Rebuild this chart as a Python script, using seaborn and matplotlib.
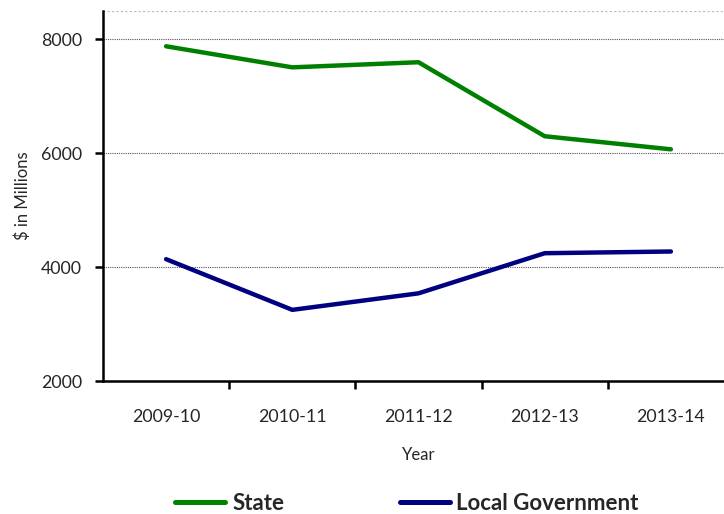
import matplotlib
matplotlib.use("Agg")
import matplotlib.pyplot as plt
import seaborn as sns
import pandas as pd
from matplotlib.lines import Line2D

years = ["2009-10", "2010-11", "2011-12", "2012-13", "2013-14"]
state = [7880, 7510, 7600, 6300, 6070]
local_gov = [4140, 3250, 3540, 4245, 4275]
series_names = ["State", "Local Government"]
colors = ["#008000", "#000080"]

df = pd.DataFrame({
    "Year": years * 2,
    "x": list(range(len(years))) * 2,
    "Value": state + local_gov,
    "Series": [series_names[0]] * len(years) + [series_names[1]] * len(years),
})

sns.set_theme(style="white")
plt.rcParams["font.family"] = ["Lato", "DejaVu Sans"]

fig = plt.figure(figsize=(7.24, 5.14), dpi=100)
ax = fig.add_axes([103 / 724, 133 / 514, 631 / 724, 370 / 514])

sns.lineplot(data=df, x="x", y="Value", hue="Series", palette=colors,
             linewidth=3.2, ax=ax, legend=False, sort=False)

ax.set_xlim(-0.5, 4.5)
ax.set_ylim(2000, 8500)
ax.set_yticks([2000, 4000, 6000, 8000])
ax.set_xticks(range(len(years)))
ax.set_xticklabels(years, fontsize=12.8)
ax.set_xticks([0.5, 1.5, 2.5, 3.5, 4.5], minor=True)
ax.tick_params(axis="x", which="major", bottom=True, length=0, pad=20)
ax.tick_params(axis="x", which="minor", bottom=True, length=6, width=1.8, color="black", direction="out")
ax.tick_params(axis="y", which="major", left=True, length=6, width=1.8, color="black", direction="out",
               labelsize=12.8, pad=9)

for y in [4000, 6000, 8000]:
    ax.axhline(y, color="#555555", linestyle=(0, (1, 1)), linewidth=0.8, zorder=0)
ax.axhline(8500, color="#bbbbbb", linestyle=(0, (1, 1)), linewidth=1.6, zorder=0)

for s in ["top", "right"]:
    ax.spines[s].set_visible(False)
for s in ["left", "bottom"]:
    ax.spines[s].set_color("black")
    ax.spines[s].set_linewidth(1.8)

ax.set_xlabel("Year", fontsize=12, labelpad=16)
ax.set_ylabel("$ in Millions", fontsize=12, labelpad=7)

handles = [Line2D([0], [0], color=c, linewidth=3.6) for c in colors]
leg = fig.legend(handles, series_names, loc="center", bbox_to_anchor=(407 / 724, 1 - 503 / 514),
                 ncol=2, frameon=False, prop={"weight": "bold", "size": 16},
                 handlelength=2.25, columnspacing=5.2, handletextpad=0.3)

fig.savefig("out.png", dpi=100)
